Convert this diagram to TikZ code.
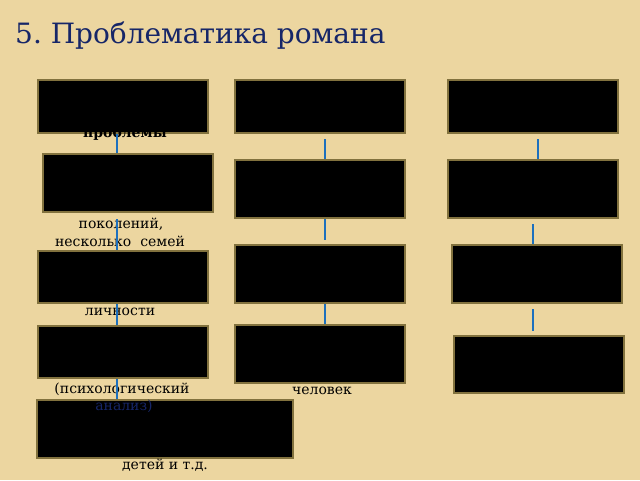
\documentclass[tikz,border=0pt]{standalone}
\usepackage{fontspec}
\setmainfont{DejaVu Serif}
\usetikzlibrary{positioning}
\usepackage{xcolor}
\definecolor{parch}{RGB}{236,214,160}
\definecolor{frame}{RGB}{130,114,62}
\definecolor{link}{RGB}{28,112,190}
\definecolor{navy}{RGB}{22,38,104}
\frenchspacing

\begin{document}
\begin{tikzpicture}[x=1pt, y=-1pt,
	box/.style={draw=frame, line width=2pt, fill=black, inner sep=0pt, minimum width=170pt, minimum height=55pt},
	note/.style={font=\fontsize{14}{17}\selectfont, inner sep=0pt, anchor=base},
	linkline/.style={link, line width=2.6pt}]
	\fill[parch] (0,0) rectangle (640,480);
	\node[anchor=base west, inner sep=0pt, text=navy, font=\fontsize{28}{32}\selectfont] (title) at (15,43) {5. Проблематика романа};
	
	% First column
	\node[box, minimum height=53pt] (a1) at (123,106.5) {};
	\node[box, minimum height=58pt] (a2) at (128,183) {};
	\node[box, minimum height=52pt] (a3) at (122.5,277) {};
	\node[box, minimum height=52pt] (a4) at (122.5,352) {};
	\node[box, minimum width=256pt, minimum height=58pt] (a5) at (165,429) {};
	
	% Second column
	\node[box, minimum height=53pt] (b1) at (320,106.5) {};
	\node[box, minimum height=58pt] (b2) at (320,189) {};
	\node[box, minimum height=58pt] (b3) at (320,274) {};
	\node[box, minimum height=58pt] (b4) at (320,354) {};
	
	% Third column
	\node[box, minimum height=53pt] (c1) at (533,106.5) {};
	\node[box, minimum height=58pt] (c2) at (533,189) {};
	\node[box, minimum height=58pt] (c3) at (536.5,274) {};
	\node[box, minimum height=57pt] (c4) at (539,364.5) {};
	
	% Texts below the boxes
	\node[note, font=\fontsize{14}{17}\selectfont\bfseries] (t1) at (125,137) {проблемы};
	\node[note] (t2) at (121,228) {поколений,};
	\node[note] (t3) at (120,246) {несколько~ семей};
	\node[note] (t4) at (120,315) {личности};
	\node[note] (t5) at (122,393) {(психологический};
	\node[note, text=navy] (t6) at (124,410) {анализ)};
	\node[note] (t7) at (165,469) {детей и т.д.};
	\node[note] (t8) at (322,394) {человек};
	
	% Connectors
	\coordinate (xa) at (117,0);
	\coordinate (xb) at (325,0);
	\coordinate (xc) at (538,0);
	\coordinate (xd) at (533,0);
	\draw[linkline] (a1.south -| xa) -- (a2.north -| xa);
	\draw[linkline] ([yshift=-6pt]a2.south -| xa) -- (a3.north -| xa);
	\draw[linkline] (a3.south -| xa) -- (a4.north -| xa);
	\draw[linkline] (a4.south -| xa) -- (a5.north -| xa);
	\draw[linkline] ([yshift=-5pt]b1.south -| xb) -- (b2.north -| xb);
	\draw[linkline] (b2.south -| xb) -- ([yshift=4pt]b3.north -| xb);
	\draw[linkline] (b3.south -| xb) -- (b4.north -| xb);
	\draw[linkline] ([yshift=-5pt]c1.south -| xc) -- (c2.north -| xc);
	\draw[linkline] ([yshift=-5pt]c2.south -| xd) -- (c3.north -| xd);
	\draw[linkline] ([yshift=-5pt]c3.south -| xd) -- ([yshift=4pt]c4.north -| xd);
\end{tikzpicture}
\end{document}
